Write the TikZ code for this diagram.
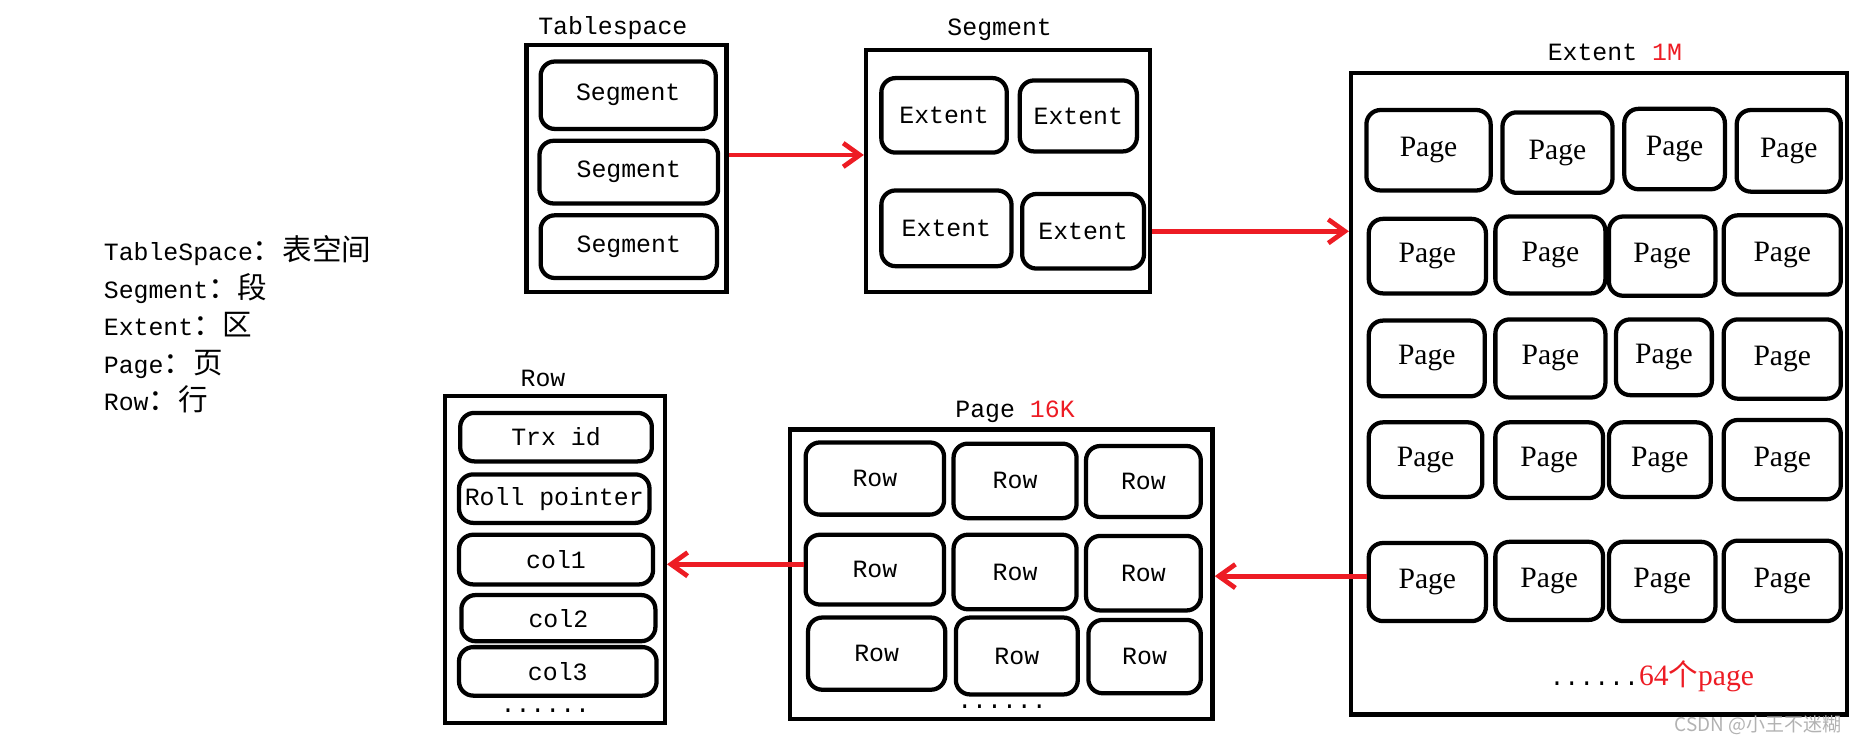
\documentclass[tikz,border=0pt]{standalone}
\usepackage{fontspec}
\setmainfont{Liberation Serif}
\setmonofont{Liberation Mono}
\newfontfamily\cjkfont{Noto Sans CJK SC}
\usepackage{tikz}
\usetikzlibrary{shapes,arrows.meta,fit,backgrounds}
\definecolor{arrowred}{RGB}{237,28,36}
\newcommand{\zh}[1]{{\cjkfont\fontsize{12.5pt}{14pt}\selectfont #1}}

\begin{document}
\begin{tikzpicture}[
    x=0.5pt, y=-0.5pt,
    line width=1.8pt
]
\useasboundingbox (0,0) rectangle (1568,631);

% =========================
% Styles
% =========================
\tikzstyle{frame} = [
    rectangle, draw,
    inner sep=0pt
]

\tikzstyle{cell} = [
    rectangle, draw,
    rounded corners=6pt,
    inner sep=0pt,
    label={[font=\ttfamily\fontsize{10.5pt}{12pt}\selectfont]center:#1}
]

\tikzstyle{pagecell} = [
    rectangle, draw,
    rounded corners=6pt,
    inner sep=0pt,
    label={[font=\fontsize{12.5pt}{14pt}\selectfont]center:#1}
]

\tikzstyle{title} = [
    inner sep=0pt,
    font=\ttfamily\fontsize{10.5pt}{12pt}\selectfont
]

\tikzstyle{legend} = [
    anchor=west,
    inner sep=0pt,
    text height=8pt, text depth=2pt,
    font=\ttfamily\fontsize{10.5pt}{12pt}\selectfont
]

\tikzstyle{line} = [draw, arrowred, line width=2pt,
    -{Straight Barb[length=7pt,width=10pt]}]

% =========================
% Legend
% =========================
\node[legend] (leg1) at (86,214) {TableSpace\zh{：表空间}};
\node[legend] (leg2) at (86,246) {Segment\zh{：段}};
\node[legend] (leg3) at (86,278) {Extent\zh{：区}};
\node[legend] (leg4) at (86,310) {Page\zh{：页}};
\node[legend] (leg5) at (86,341) {Row\zh{：行}};

% =========================
% Tablespace
% =========================
\node[frame, fit={(445,38)(614,247)}] (tablespace) {};
\node[title] at (518,24) {Tablespace};
\node[cell=Segment, fit={(457,52)(605,109)}] (seg1) {};
\node[cell=Segment, fit={(456,119)(607,172)}] (seg2) {};
\node[cell=Segment, fit={(457,182)(606,235)}] (seg3) {};

% =========================
% Segment
% =========================
\node[frame, fit={(732,42)(972,247)}] (segment) {};
\node[title] at (845,25) {Segment};
\node[cell=Extent, fit={(745,66)(851,129)}] (ext11) {};
\node[cell=Extent, fit={(862,68)(961,128)}] (ext12) {};
\node[cell=Extent, fit={(745,161)(855,225)}] (ext21) {};
\node[cell=Extent, fit={(864,164)(967,227)}] (ext22) {};

% =========================
% Extent
% =========================
\node[frame, fit={(1142,62)(1561,604)}] (extent) {};
\node[title] at (1365,44) {Extent \textcolor{arrowred}{1M}};

\node[pagecell=Page, fit={(1155,93)(1260,161)}] (pg11) {};
\node[pagecell=Page, fit={(1270,95)(1363,163)}] (pg12) {};
\node[pagecell=Page, fit={(1373,92)(1458,160)}] (pg13) {};
\node[pagecell=Page, fit={(1468,93)(1556,162)}] (pg14) {};

\node[pagecell=Page, fit={(1157,185)(1256,248)}] (pg21) {};
\node[pagecell=Page, fit={(1264,183)(1357,248)}] (pg22) {};
\node[pagecell=Page, fit={(1360,183)(1450,250)}] (pg23) {};
\node[pagecell=Page, fit={(1457,182)(1556,249)}] (pg24) {};

\node[pagecell=Page, fit={(1157,271)(1255,335)}] (pg31) {};
\node[pagecell=Page, fit={(1264,270)(1357,336)}] (pg32) {};
\node[pagecell=Page, fit={(1366,270)(1447,334)}] (pg33) {};
\node[pagecell=Page, fit={(1457,270)(1556,337)}] (pg34) {};

\node[pagecell=Page, fit={(1157,357)(1253,420)}] (pg41) {};
\node[pagecell=Page, fit={(1264,357)(1355,421)}] (pg42) {};
\node[pagecell=Page, fit={(1360,357)(1446,420)}] (pg43) {};
\node[pagecell=Page, fit={(1457,355)(1556,422)}] (pg44) {};

\node[pagecell=Page, fit={(1157,459)(1256,525)}] (pg51) {};
\node[pagecell=Page, fit={(1264,458)(1355,524)}] (pg52) {};
\node[pagecell=Page, fit={(1360,458)(1450,525)}] (pg53) {};
\node[pagecell=Page, fit={(1457,457)(1556,525)}] (pg54) {};

\node[anchor=west, inner sep=0pt] (morepages) at (1308,572)
    {\ttfamily\fontsize{10.5pt}{12pt}\selectfont......\textcolor{arrowred}{\rmfamily\fontsize{12.5pt}{14pt}\selectfont 64\zh{个}page}};

% =========================
% Page
% =========================
\node[frame, fit={(668,363)(1025,608)}] (page) {};
\node[title] at (858,348) {Page \textcolor{arrowred}{16K}};

\node[cell=Row, fit={(681,374)(798,435)}] (row11) {};
\node[cell=Row, fit={(806,375)(910,438)}] (row12) {};
\node[cell=Row, fit={(918,377)(1015,437)}] (row13) {};
\node[cell=Row, fit={(681,452)(798,511)}] (row21) {};
\node[cell=Row, fit={(806,452)(910,515)}] (row22) {};
\node[cell=Row, fit={(918,453)(1015,516)}] (row23) {};
\node[cell=Row, fit={(683,522)(799,583)}] (row31) {};
\node[cell=Row, fit={(808,522)(911,587)}] (row32) {};
\node[cell=Row, fit={(920,524)(1015,586)}] (row33) {};
\node[title] (morerows) at (847,597) {......};

% =========================
% Row
% =========================
\node[frame, fit={(376,335)(562,611)}] (row) {};
\node[title] at (459,320) {Row};
\node[cell=Trx id, fit={(389,349)(551,390)}] (trx) {};
\node[cell=Roll pointer, fit={(388,401)(549,442)}] (roll) {};
\node[cell=col1, fit={(388,452)(552,494)}] (col1) {};
\node[cell=col2, fit={(390,503)(554,542)}] (col2) {};
\node[cell=col3, fit={(388,547)(555,588)}] (col3) {};
\node[title] (morecols) at (461,601) {......};

% =========================
% Connections
% =========================
\path[line] ([yshift=5.75pt]tablespace.east) -- ([yshift=5.75pt]tablespace.east -| segment.west);
\path[line] (segment.east |- ext22) -- (extent.west |- ext22);
\path[line] ([yshift=2.5pt]pg51.west) -- ([yshift=2.5pt]pg51.west -| page.east);
\path[line] ([yshift=2.25pt]row21.west) -- ([yshift=2.25pt]row21.west -| row.east);

% watermark
\node[anchor=east, inner sep=0pt, text=gray!60,
    font=\cjkfont\fontsize{8pt}{9pt}\selectfont] (mark) at (1558,613)
    {CSDN @小王不迷糊};

\end{tikzpicture}
\end{document}
